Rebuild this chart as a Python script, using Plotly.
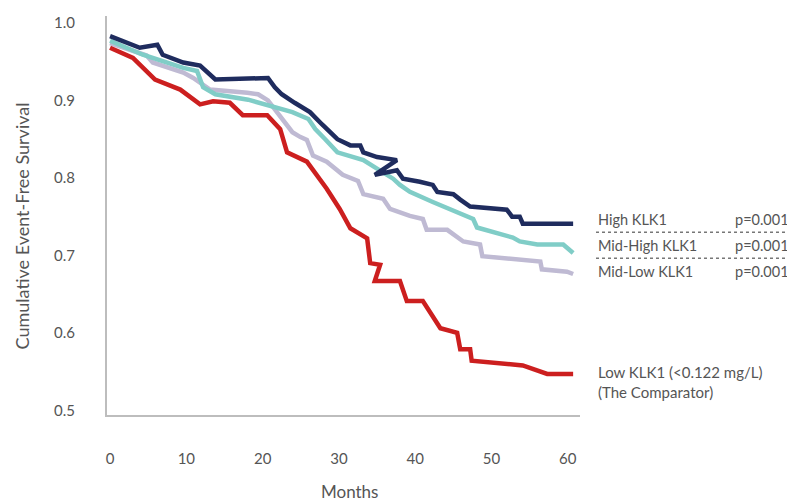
import plotly.graph_objects as go

# Kaplan-Meier style curves (months, cumulative event-free survival)
high_m = [0, 3.9, 6.2, 6.9, 9.6, 11.8, 13.8, 20.7, 21.6, 22.5, 24.2, 26.2, 27.8, 29.1, 29.8, 31.5, 32.8, 33.2,
          35.0, 37.6, 34.7, 37.6, 38.4, 40.6, 42.3, 42.9, 45.0, 45.9, 47.2, 52.0, 52.7, 53.7, 54.1, 60.7]
high_s = [0.983, 0.968, 0.972, 0.959, 0.949, 0.945, 0.927, 0.929, 0.917, 0.908, 0.897, 0.885, 0.869, 0.856, 0.850,
          0.842, 0.842, 0.833, 0.827, 0.823, 0.804, 0.810, 0.799, 0.795, 0.791, 0.782, 0.779, 0.772, 0.763, 0.759,
          0.750, 0.750, 0.741, 0.741]

midhigh_m = [0, 4.3, 9.6, 11.4, 12.2, 13.8, 18.1, 20.3, 23.9, 26.0, 26.9, 28.2, 29.8, 33.2, 34.7, 37.1, 38.0,
             39.3, 42.3, 47.6, 48.1, 51.1, 52.8, 53.7, 56.0, 59.4, 60.7]
midhigh_s = [0.977, 0.959, 0.942, 0.938, 0.917, 0.908, 0.901, 0.895, 0.885, 0.876, 0.863, 0.850, 0.833, 0.823,
             0.814, 0.799, 0.791, 0.782, 0.769, 0.747, 0.736, 0.728, 0.723, 0.718, 0.714, 0.714, 0.703]

midlow_m = [0, 4.8, 5.6, 9.6, 10.9, 13.1, 18.0, 19.4, 20.7, 22.5, 23.9, 24.9, 25.8, 26.6, 28.4, 30.5, 32.5, 33.2,
            35.8, 36.7, 39.3, 41.0, 41.5, 44.2, 46.3, 48.5, 48.8, 56.4, 56.6, 59.9, 60.7]
midlow_s = [0.974, 0.958, 0.949, 0.936, 0.929, 0.914, 0.910, 0.908, 0.900, 0.878, 0.859, 0.853, 0.849, 0.829,
            0.821, 0.804, 0.796, 0.779, 0.773, 0.760, 0.751, 0.747, 0.733, 0.733, 0.718, 0.714, 0.699, 0.692,
            0.682, 0.679, 0.676]

low_m = [0, 3.0, 5.9, 9.2, 11.8, 13.5, 15.7, 17.4, 20.6, 22.3, 23.2, 25.8, 28.4, 30.1, 31.5, 33.7, 34.1, 35.4,
         34.7, 38.0, 38.9, 41.0, 43.3, 45.5, 45.9, 47.2, 47.4, 52.8, 54.1, 57.3, 60.7]
low_s = [0.968, 0.955, 0.927, 0.914, 0.895, 0.899, 0.897, 0.881, 0.881, 0.863, 0.833, 0.821, 0.786, 0.760, 0.735,
         0.722, 0.690, 0.688, 0.667, 0.667, 0.641, 0.641, 0.606, 0.600, 0.579, 0.579, 0.564, 0.558, 0.558, 0.547,
         0.547]

x_ticks = [0, 10, 20, 30, 40, 50, 60]
y_ticks = [0.5, 0.6, 0.7, 0.8, 0.9, 1.0]
y_tick_text = ["0.5", "0.6", "0.7", "0.8", "0.9", "1.0"]

group_labels = ["High KLK1", "Mid-High KLK1", "Mid-Low KLK1"]
p_values = ["p=0.001", "p=0.001", "p=0.001"]
comparator_label = ["Low KLK1 (<0.122 mg/L)", "(The Comparator)"]

series = [
    ("Mid-Low KLK1", midlow_m, midlow_s, "#bfbad3"),
    ("Mid-High KLK1", midhigh_m, midhigh_s, "#80cdc7"),
    ("Low KLK1", low_m, low_s, "#cc1f1f"),
    ("High KLK1", high_m, high_s, "#1f2c5e"),
]

fig = go.Figure()
for name, xm, ys, col in series:
    fig.add_trace(go.Scatter(x=xm, y=ys, mode="lines", name=name,
                             line=dict(color=col, width=4.5), showlegend=False))

TXT = "#555555"
FONT = "Lato"

# page body has an 8px margin: figure spans window px 8..795 / 8..504
fig.update_layout(
    width=787, height=496,
    margin=dict(l=99, r=215, t=5, b=89),
    paper_bgcolor="white", plot_bgcolor="white",
    font=dict(family=FONT, color=TXT, size=14),
    xaxis=dict(range=[-0.4, 61.6], tickvals=x_ticks, showgrid=False, zeroline=False,
               showline=True, linecolor="#bdbdbd", linewidth=2, ticks="",
               ticklabelstandoff=29, tickfont=dict(size=15, color=TXT)),
    yaxis=dict(range=[0.494, 1.009], tickvals=y_ticks, ticktext=y_tick_text, showgrid=False,
               zeroline=False, showline=True, linecolor="#bdbdbd", linewidth=2, ticks="",
               ticklabelstandoff=27, tickfont=dict(size=15, color=TXT)),
)

# helpers: window pixel -> paper fraction (plot area spans window x 107..580, y 13..415)
def px_x(px):
    return (px - 107) / 473.0

def px_y(py):
    return (415 - py) / 402.0

# axis titles
fig.add_annotation(text="Cumulative Event-Free Survival", xref="paper", yref="paper",
                   x=px_x(22), y=px_y(225), textangle=-90, showarrow=False,
                   font=dict(size=18, color=TXT, family=FONT), xanchor="center", yanchor="middle")
fig.add_annotation(text="Months", xref="paper", yref="paper", x=px_x(349), y=px_y(492),
                   showarrow=False, font=dict(size=17, color=TXT, family=FONT),
                   xanchor="center", yanchor="middle")

# legend block
label_y = [218, 244, 270]
for lab, pv, ly in zip(group_labels, p_values, label_y):
    fig.add_annotation(text=lab, xref="paper", yref="paper", x=px_x(596), y=px_y(ly),
                       showarrow=False, xanchor="left", yanchor="middle",
                       font=dict(size=14.5, color=TXT, family=FONT))
    fig.add_annotation(text=pv, xref="paper", yref="paper", x=px_x(791), y=px_y(ly),
                       showarrow=False, xanchor="right", yanchor="middle",
                       font=dict(size=14.5, color=TXT, family=FONT))
for sy in [231, 257]:
    fig.add_shape(type="line", xref="paper", yref="paper", x0=px_x(596), x1=px_x(792),
                  y0=px_y(sy), y1=px_y(sy), line=dict(color="#777777", width=1.5, dash="dot"))

for lab, ly in zip(comparator_label, [372, 392]):
    fig.add_annotation(text=lab, xref="paper", yref="paper", x=px_x(596), y=px_y(ly),
                       showarrow=False, xanchor="left", yanchor="middle",
                       font=dict(size=15, color=TXT, family=FONT))

fig.write_html("out.html")
